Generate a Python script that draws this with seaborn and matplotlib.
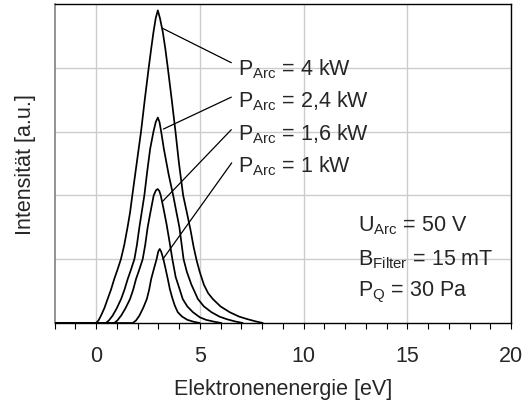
import matplotlib
matplotlib.use("Agg")
import matplotlib.pyplot as plt
import seaborn as sns
import numpy as np

# ---- data ----
x_4kw = [-2, 0, 0.12, 0.24, 0.4, 0.56, 0.72, 0.88, 1.04, 1.2, 1.36, 1.52, 1.64, 1.75, 1.96, 2.17, 2.35,
         2.54, 2.66, 2.77, 2.88, 2.98, 3.08, 3.22, 3.34, 3.46, 3.65, 3.83, 4.0, 4.2, 4.38, 4.56, 4.7,
         4.85, 5.0, 5.2, 5.4, 5.63, 6.0, 6.44, 6.9, 7.3, 7.7, 8.04]
y_4kw = [0, 0, 0.04, 0.115, 0.23, 0.376, 0.52, 0.69, 0.84, 1.0, 1.22, 1.5, 1.73, 2.0, 2.5, 3.0, 3.5,
         4.0, 4.3, 4.56, 4.78, 4.90, 4.78, 4.56, 4.3, 4.0, 3.5, 3.0, 2.5, 2.0, 1.73, 1.45, 1.2,
         0.98, 0.8, 0.6, 0.47, 0.376, 0.26, 0.17, 0.1, 0.06, 0.025, 0]

x_24kw = [-2, 0.48, 0.62, 0.80, 1.0, 1.21, 1.37, 1.53, 1.69, 1.85, 1.97, 2.09, 2.2, 2.33, 2.47, 2.61,
          2.77, 2.88, 2.98, 3.06, 3.14, 3.27, 3.5, 3.72, 3.88, 4.02, 4.12, 4.22, 4.38, 4.6, 4.91,
          5.2, 5.56, 5.95, 6.3, 6.7, 7.07]
y_24kw = [0, 0, 0.04, 0.115, 0.23, 0.376, 0.52, 0.69, 0.84, 1.0, 1.22, 1.5, 1.73, 2.0, 2.38, 2.73,
          3.0, 3.15, 3.22, 3.15, 3.0, 2.73, 2.33, 2.0, 1.73, 1.5, 1.25, 1.0, 0.8, 0.6, 0.376,
          0.26, 0.17, 0.1, 0.06, 0.025, 0]

x_16kw = [-2, 0.88, 1.03, 1.21, 1.42, 1.64, 1.79, 1.93, 2.09, 2.25, 2.37, 2.49, 2.62, 2.78, 2.89, 2.97,
          3.05, 3.12, 3.25, 3.4, 3.53, 3.68, 3.84, 4.0, 4.18, 4.4, 4.67, 5.0, 5.3, 5.7, 6.04]
y_16kw = [0, 0, 0.04, 0.115, 0.23, 0.376, 0.52, 0.69, 0.84, 1.0, 1.22, 1.5, 1.73, 2.0, 2.08, 2.10,
          2.07, 2.0, 1.8, 1.55, 1.3, 1.0, 0.72, 0.56, 0.376, 0.26, 0.17, 0.09, 0.05, 0.02, 0]

x_1kw = [-2, 1.77, 1.93, 2.09, 2.28, 2.45, 2.56, 2.66, 2.8, 2.92, 3.0, 3.07, 3.14, 3.25, 3.36, 3.46,
         3.56, 3.67, 3.8, 3.94, 4.15, 4.4, 4.7, 5.0]
y_1kw = [0, 0, 0.04, 0.115, 0.24, 0.376, 0.52, 0.69, 0.86, 1.0, 1.12, 1.16, 1.12, 1.0, 0.84, 0.69,
         0.53, 0.4, 0.27, 0.17, 0.1, 0.05, 0.02, 0]

series_labels = ["$P_{Arc}$ = 4 kW", "$P_{Arc}$ = 2,4 kW", "$P_{Arc}$ = 1,6 kW", "$P_{Arc}$ = 1 kW"]
info_labels = ["$U_{Arc}$ = 50 V", "$B_{Filter}$ = 15 mT", "$P_{Q}$ = 30 Pa"]
x_ticks = [0, 5, 10, 15, 20]
x_label = "Elektronenenergie [eV]"
y_label = "Intensität [a.u.]"

# ---- layout / annotation positions ----
leader_start = [(3.2, 4.62), (3.25, 3.04), (3.22, 1.91), (3.22, 1.0)]
leader_end = [(6.52, 4.08), (6.52, 3.54), (6.52, 3.03), (6.54, 2.51)]
label_pos = [(6.85, 3.90), (6.85, 3.39), (6.85, 2.88), (6.85, 2.37)]
info_pos = [(12.64, 1.45), (12.64, 0.925), (12.64, 0.43)]

sns.set_style("white")
plt.rcParams["font.family"] = ["Liberation Sans", "DejaVu Sans"]
plt.rcParams["mathtext.default"] = "regular"

fig = plt.figure(figsize=(5.26, 4.02), dpi=100)
ax = fig.add_axes([54.5 / 526, 1 - 324 / 402, (511 - 54.5) / 526, (324 - 5) / 402])

for xs, ys in [(x_4kw, y_4kw), (x_24kw, y_24kw), (x_16kw, y_16kw), (x_1kw, y_1kw)]:
    sns.lineplot(x=xs, y=ys, ax=ax, color="black", linewidth=1.25,
                 estimator=None, sort=False, zorder=3)

for (x0, y0), (x1, y1) in zip(leader_start, leader_end):
    ax.plot([x0, x1], [y0, y1], color="black", linewidth=0.9, zorder=3)

fs = 15.5
for (tx, ty), lab in zip(label_pos, series_labels):
    ax.text(tx, ty, lab, fontsize=fs, va="baseline", ha="left", zorder=4)
for (tx, ty), lab in zip(info_pos, info_labels):
    ax.text(tx, ty, lab, fontsize=fs, va="baseline", ha="left", zorder=4)

ax.set_xlim(-2, 20)
ax.set_ylim(0, 5)
ax.set_xticks(x_ticks)
ax.set_xticks(np.arange(-2, 21, 1), minor=True)
ax.set_yticks([1, 2, 3, 4])
ax.set_yticklabels([])
ax.tick_params(axis="y", length=0)
ax.tick_params(axis="x", which="both", direction="out", length=4, width=0.8,
               color="black", labelsize=fs, pad=12, bottom=True)
ax.grid(True, which="major", color="#cccccc", linewidth=1.0, zorder=0)
ax.set_axisbelow(True)

ax.set_xlabel(x_label, fontsize=fs, labelpad=8.5)
ax.set_ylabel(y_label, fontsize=fs, labelpad=10)

for side in ["top", "right", "bottom"]:
    ax.spines[side].set_visible(True)
    ax.spines[side].set_color("black")
    ax.spines[side].set_linewidth(1.0)
ax.spines["left"].set_visible(True)
ax.spines["left"].set_color("#808080")
ax.spines["left"].set_linewidth(1.2)

fig.savefig("out.png", dpi=100)
